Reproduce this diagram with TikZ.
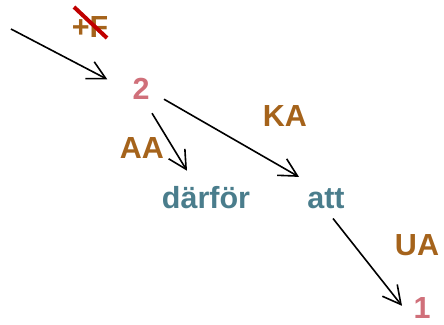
\documentclass[tikz,border=0pt]{standalone}
\usepackage{fontspec}
\setmainfont{Liberation Sans}
\usetikzlibrary{arrows.meta,calc}
\definecolor{rootpink}{HTML}{D0707A}
\definecolor{relbrown}{HTML}{A5631B}
\definecolor{wordteal}{HTML}{4A7D8C}
\definecolor{strikered}{HTML}{C00000}
\tikzset{
  lbl/.style={inner sep=0pt, anchor=base, font=\fontsize{30.5}{36}\selectfont\bfseries},
  numlbl/.style={lbl, text=rootpink},
  rellbl/.style={lbl, text=relbrown},
  wordlbl/.style={lbl, text=wordteal},
  edge/.style={line width=1.6pt, -{Straight Barb[length=18pt,width=19pt,line width=1.6pt]}},
}
\begin{document}
\begin{tikzpicture}[x=1pt,y=-1pt]
\useasboundingbox (0,0) rectangle (444,324);
% nodes
\node[rellbl]  (plusF)  at (90,37)   {+F};
\node[numlbl]  (n2)     at (141,99)  {2};
\node[rellbl]  (aa)     at (142,158) {AA};
\node[rellbl]  (ka)     at (285,126) {KA};
\node[wordlbl] (darfor) at (206,208) {därför};
\node[wordlbl] (att)    at (326,208) {att};
\node[rellbl]  (ua)     at (417,255) {UA};
\node[numlbl]  (n1)     at (422,318) {1};
% struck-out relation
\draw[strikered, line width=4pt] ($(plusF.base)+(-16,-30)$) -- ($(plusF.base)+(17,1)$);
% connectors
\coordinate (entry) at (11,29);
\draw[edge] (entry) -- ($(n2.west)+(-25,-9)$);
\draw[edge] ($(n2.south)+(11,14)$) -- ($(darfor.north)+(-19,-15)$);
\draw[edge] ($(n2.south)+(23,0)$) -- ($(att.north)+(-27,-11)$);
\draw[edge] ($(att.south)+(7,10)$) -- ($(n1.north)+(-20,9)$);
\end{tikzpicture}
\end{document}
